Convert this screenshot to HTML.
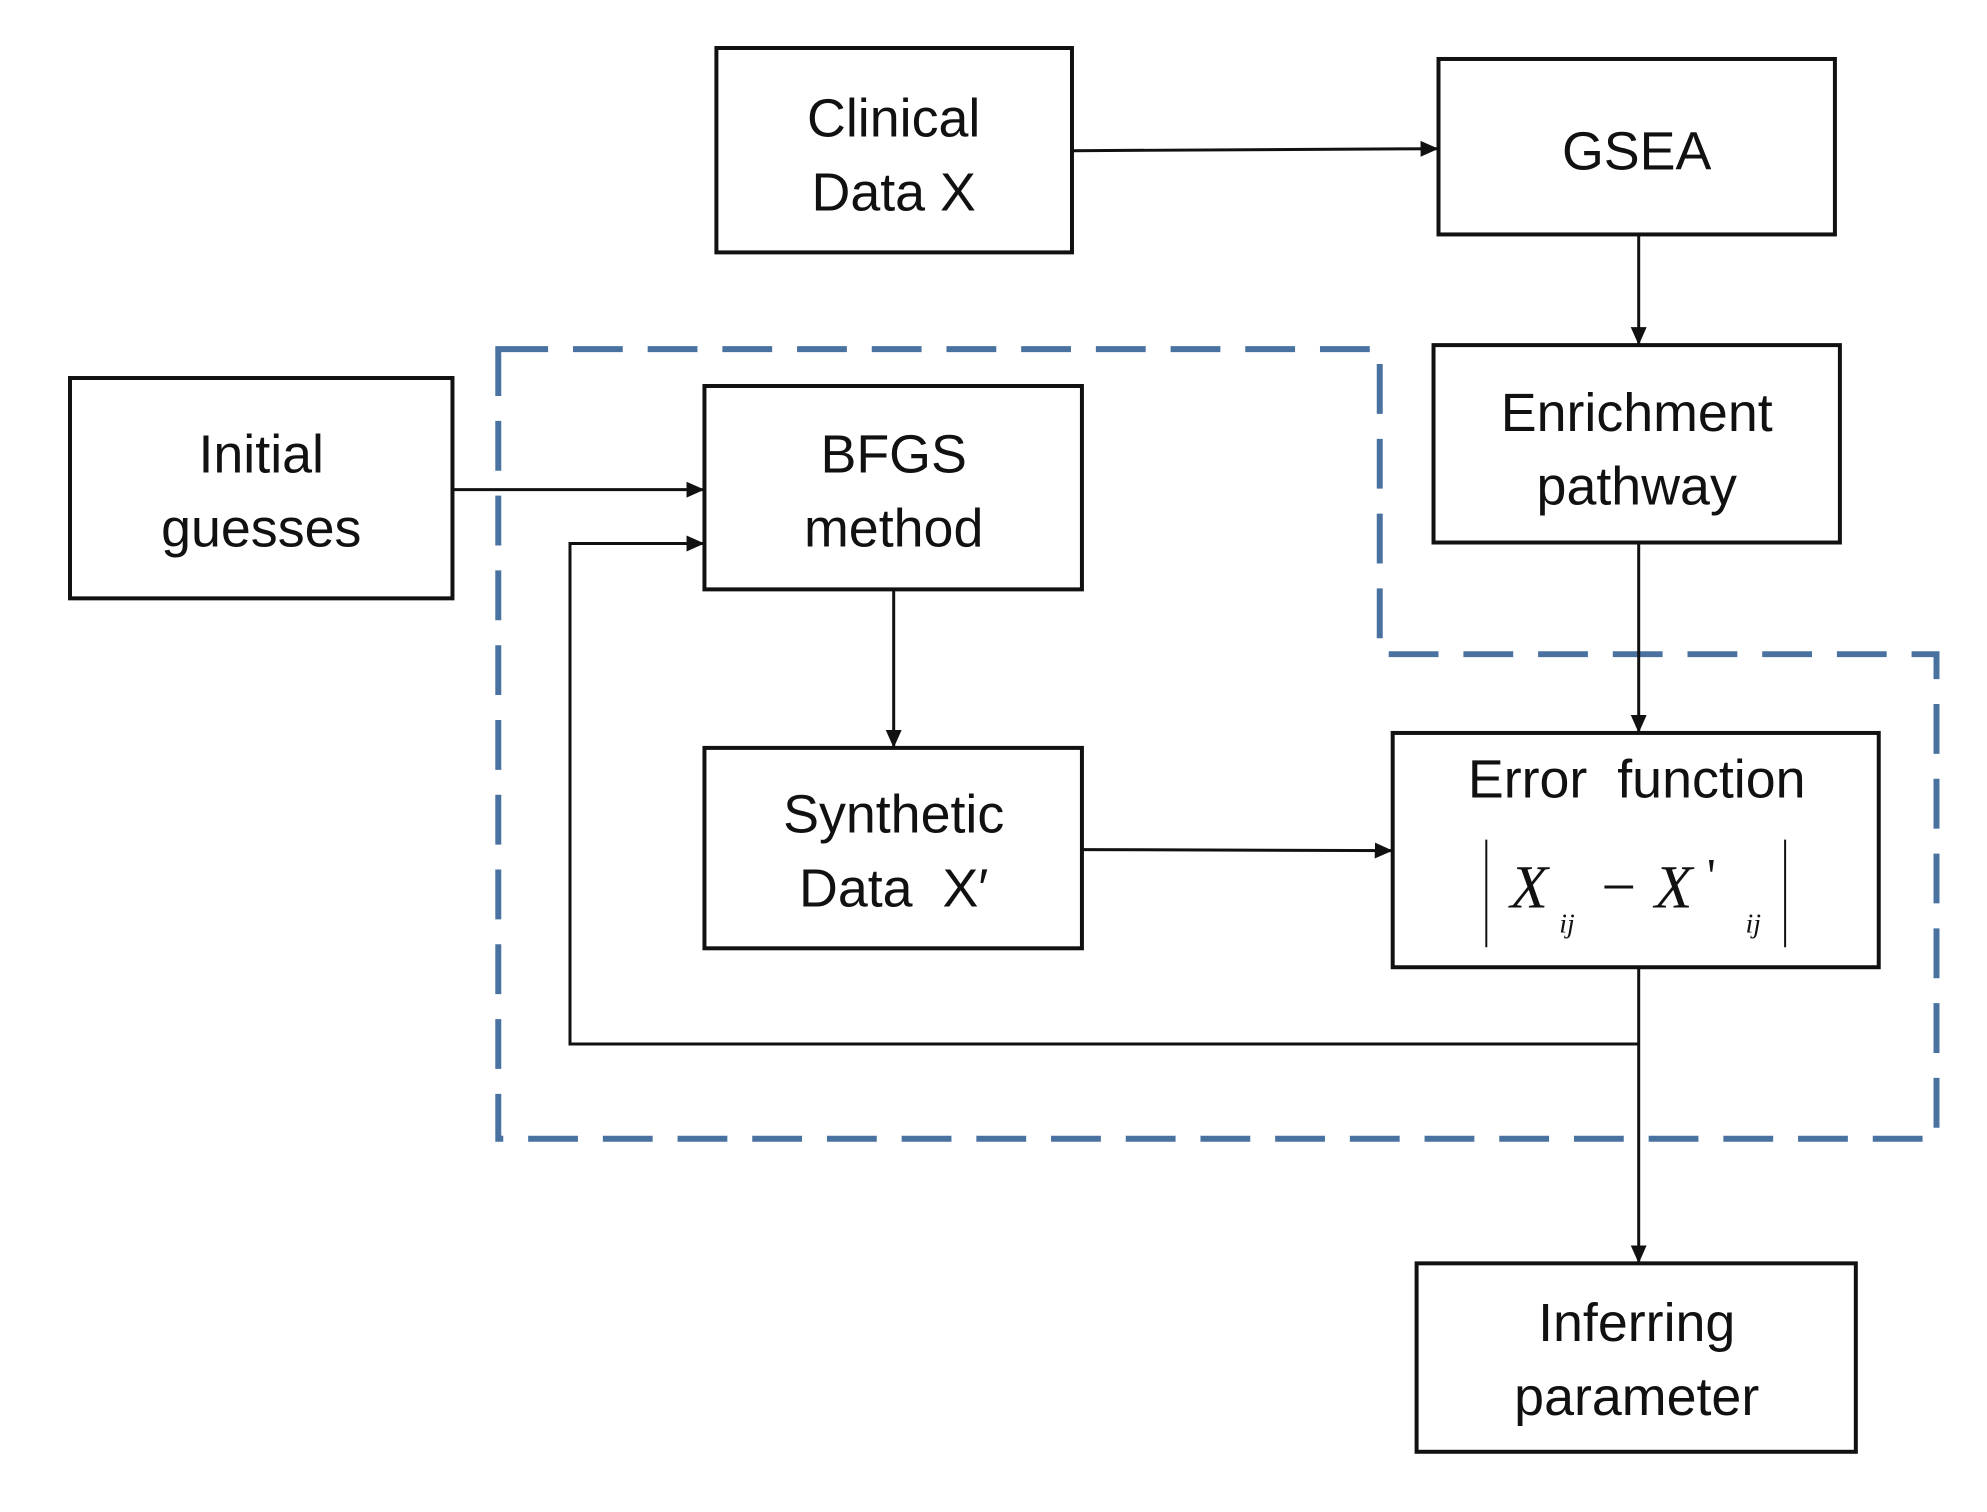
<!DOCTYPE html>
<html><head><style>
body{margin:0;background:#fff}
svg text{font-family:"Liberation Sans",sans-serif;font-size:54px;fill:#111;text-anchor:middle}
</style></head><body>
<svg width="1987" height="1507" viewBox="0 0 1987 1507" xmlns="http://www.w3.org/2000/svg">
<defs>
<marker id="b" markerWidth="20" markerHeight="20" refX="18" refY="8" orient="auto" markerUnits="userSpaceOnUse"><path d="M0,0 L18,8 L0,16 z" fill="#111"/></marker></defs>
<g transform="translate(0.28,0.15) scale(0.996,0.997)">
<path d="M500,350 L1385,350 L1385,656 L1944,656 L1944,1142 L500,1142 Z" fill="none" stroke="#4a72a0" stroke-width="6" stroke-dasharray="50,25"/>
<g fill="none" stroke="#111" stroke-width="4">
<rect x="719" y="48" width="357" height="205"/>
<rect x="1444" y="59" width="398" height="176"/>
<rect x="1439" y="346" width="408" height="198"/>
<rect x="70" y="379" width="384" height="221"/>
<rect x="707" y="387" width="379" height="204"/>
<rect x="707" y="750" width="379" height="201"/>
<rect x="1398" y="735" width="488" height="235"/>
<rect x="1422" y="1267" width="441" height="189"/>
</g>
<g fill="none" stroke="#111" stroke-width="3" marker-end="url(#b)">
<path d="M1076,151 L1444,149"/>
<path d="M1645,235 L1645,346"/>
<path d="M1645,544 L1645,735"/>
<path d="M454,491 L707,491"/>
<path d="M897,591 L897,750"/>
<path d="M1086,852 L1398,853"/>
<path d="M1645,1047 L572,1047 L572,545 L707,545"/>
<path d="M1645,970 L1645,1267"/>
</g>
<text x="897" y="137">Clinical</text><text x="897" y="211">Data X</text>
<text x="1643" y="170">GSEA</text>
<text x="1643" y="432">Enrichment</text><text x="1643" y="506">pathway</text>
<text x="262" y="474">Initial</text><text x="262" y="548">guesses</text>
<text x="897" y="474">BFGS</text><text x="897" y="548">method</text>
<text x="897" y="835">Synthetic</text><text x="897" y="909">Data&#160;&#160;X′</text>
<text x="1643" y="800">Error&#160;&#160;function</text>
<g stroke="#111" stroke-width="2"><line x1="1492" y1="842" x2="1492" y2="950"/><line x1="1792" y1="842" x2="1792" y2="950"/></g>
<text x="1535" y="910" style="font-family:'Liberation Serif',serif;font-style:italic;font-size:62px">X</text>
<text x="1573" y="935" style="font-family:'Liberation Serif',serif;font-style:italic;font-size:28px">ij</text>
<text x="1625" y="910" style="font-family:'Liberation Serif',serif;font-size:62px">−</text>
<text x="1680" y="910" style="font-family:'Liberation Serif',serif;font-style:italic;font-size:62px">X</text>
<text x="1718" y="895" style="font-family:'Liberation Serif',serif;font-size:50px">'</text>
<text x="1760" y="935" style="font-family:'Liberation Serif',serif;font-style:italic;font-size:28px">ij</text>
<text x="1643" y="1345">Inferring</text><text x="1643" y="1419">parameter</text>
</g>
</svg>
</body></html>
